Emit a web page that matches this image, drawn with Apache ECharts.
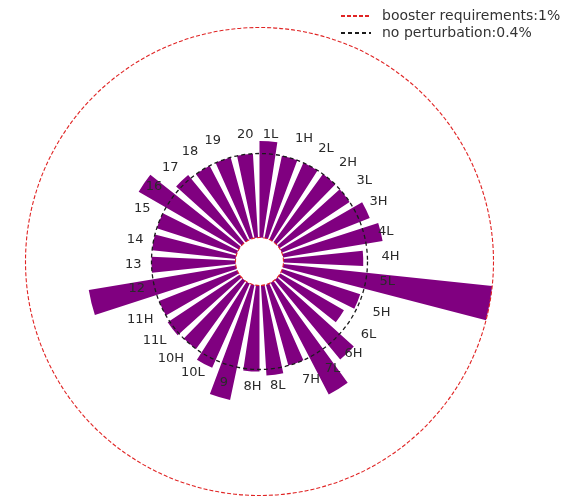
<!DOCTYPE html>
<html>
<head>
<meta charset="utf-8">
<script src="https://cdn.jsdelivr.net/npm/echarts@6/dist/echarts.min.js"></script>
<style>
  html, body { margin: 0; padding: 0; background: #ffffff; }
  #chart { width: 580px; height: 497px; }
</style>
</head>
<body>
<div id="chart"></div>
<script>
// Sectors, clockwise from the top
const categories = ['1L', '1H', '2L', '2H', '3L', '3H', '4L', '4H', '5L', '5H',
  '6L', '6H', '7L', '7H', '8L', '8H', '9', '10L', '10H', '11L',
  '11H', '12', '13', '14', '15', '16', '17', '18', '19', '20'];

// Rate per sector (%)
const rates = [0.46, 0.40, 0.40, 0.40, 0.40, 0.45, 0.48, 0.38, 1.00, 0.39,
  0.35, 0.49, 0.60, 0.40, 0.43, 0.41, 0.56, 0.44, 0.40, 0.41,
  0.40, 0.71, 0.40, 0.40, 0.40, 0.55, 0.42, 0.40, 0.40, 0.40];

// Reference levels (%)
const boosterRequirement = 1.0;
const noPerturbation = 0.4;
const legendNames = ['booster requirements:1%', 'no perturbation:0.4%'];

const center = [259.5, 261.5];
const innerR = 24;
const outerR = 234;
const baseR = innerR + (outerR - innerR) * noPerturbation / boosterRequirement;
const startAngle = 91.75;
const red = '#e02424';
const dark = '#1a1a1a';

const hiddenRadius = (idx, max) => ({
  polarIndex: idx, type: 'value', min: 0, max: max,
  axisLine: { show: false }, axisTick: { show: false },
  axisLabel: { show: false }, splitLine: { show: false }
});

const chart = echarts.init(document.getElementById('chart'), null, { renderer: 'canvas' });
chart.setOption({
  animation: false,
  backgroundColor: '#ffffff',
  legend: {
    data: legendNames,
    orient: 'vertical',
    left: 335,
    top: 4,
    itemWidth: 30,
    itemHeight: 10,
    itemGap: 3,
    itemStyle: { opacity: 0 },
    textStyle: { fontSize: 14, color: '#333333', fontFamily: 'DejaVu Sans', padding: [0, 0, 0, 6] }
  },
  polar: [
    { center: center, radius: [innerR, outerR] },
    { center: center, radius: [0, baseR] },
    { center: [261.5, 260.5], radius: [0, baseR] }
  ],
  angleAxis: [
    {
      polarIndex: 0, type: 'category', data: categories, startAngle: startAngle,
      clockwise: true, boundaryGap: true, z: 10,
      axisLine: { show: true, lineStyle: { color: red, width: 1.1, type: [4, 2] } },
      axisTick: { show: false }, axisLabel: { show: false }, splitLine: { show: false }
    },
    {
      polarIndex: 1, type: 'value', min: 0, max: 360, z: 10,
      axisLine: { show: true, lineStyle: { color: dark, width: 1.3, type: [4, 3] } },
      axisTick: { show: false }, axisLabel: { show: false }, splitLine: { show: false }
    },
    {
      polarIndex: 2, type: 'category', data: categories, startAngle: startAngle,
      clockwise: true, boundaryGap: true, z: 20,
      axisLine: { show: false }, axisTick: { show: false }, splitLine: { show: false },
      axisLabel: { show: true, interval: 0, margin: 12, color: '#2a2a2a', fontSize: 13, fontFamily: 'DejaVu Sans' }
    }
  ],
  radiusAxis: [
    hiddenRadius(0, boosterRequirement),
    hiddenRadius(1, noPerturbation),
    hiddenRadius(2, noPerturbation)
  ],
  series: [
    {
      type: 'bar', coordinateSystem: 'polar', polarIndex: 0,
      data: rates, barCategoryGap: '29%',
      itemStyle: { color: '#800080' }
    },
    {
      name: legendNames[0], type: 'line', coordinateSystem: 'polar', polarIndex: 0,
      data: [], symbol: 'none', itemStyle: { color: red },
      lineStyle: { color: red, width: 1.1, type: [4, 2] }
    },
    {
      name: legendNames[1], type: 'line', coordinateSystem: 'polar', polarIndex: 1,
      data: [], symbol: 'none', itemStyle: { color: dark },
      lineStyle: { color: dark, width: 1.3, type: [4, 3] }
    }
  ]
});
</script>
</body>
</html>
